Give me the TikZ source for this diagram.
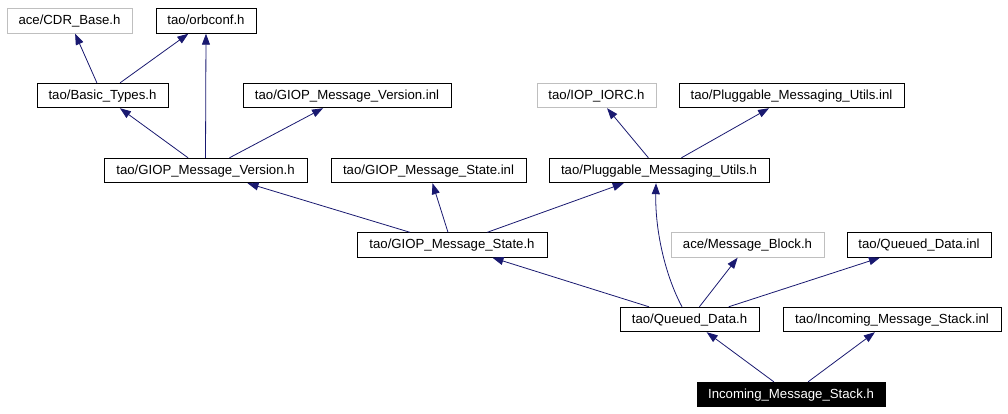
\documentclass[tikz,border=0pt]{standalone}
\usepackage{fontspec}
\setmainfont{Liberation Sans}
\usetikzlibrary{arrows.meta}
\definecolor{edgeblue}{HTML}{191970}
\definecolor{greyline}{HTML}{BFBFBF}
\tikzset{
  filebox/.style={draw=black, line width=0.9pt, fill=white, inner sep=0pt,
    minimum height=24.5pt, font=\fontsize{13.2}{15}\selectfont, text height=9.5pt, text depth=2.5pt},
  greybox/.style={filebox, draw=greyline},
  mainbox/.style={filebox, fill=black, text=white},
  dep/.style={draw=edgeblue, line width=0.8pt, -{Triangle[length=11pt,width=8pt,fill=edgeblue]}}
}
\begin{document}
\begin{tikzpicture}[x=1pt,y=-1pt]
\useasboundingbox (0,0) rectangle (1008,413);
\node[greybox, minimum width=125pt] (cdr) at (69.5,21) {ace/CDR\_Base.h};
\node[filebox, minimum width=100pt] (orb) at (206,21) {tao/orbconf.h};
\node[filebox, minimum width=131pt] (basic) at (102.5,95.5) {tao/Basic\_Types.h};
\node[filebox, minimum width=208pt] (gvinl) at (347,95.5) {tao/GIOP\_Message\_Version.inl};
\node[filebox, minimum width=203pt] (gvh) at (205.5,170.5) {tao/GIOP\_Message\_Version.h};
\node[filebox, minimum width=195pt] (gsinl) at (428.5,170.5) {tao/GIOP\_Message\_State.inl};
\node[greybox, minimum width=119pt] (iorc) at (596.5,95.5) {tao/IOP\_IORC.h};
\node[filebox, minimum width=225pt] (pmuinl) at (791.5,95.5) {tao/Pluggable\_Messaging\_Utils.inl};
\node[filebox, minimum width=220pt] (pmuh) at (659,170.5) {tao/Pluggable\_Messaging\_Utils.h};
\node[filebox, minimum width=190pt] (gsh) at (452,245) {tao/GIOP\_Message\_State.h};
\node[greybox, minimum width=153pt] (mb) at (747.5,245) {ace/Message\_Block.h};
\node[filebox, minimum width=144pt] (qdinl) at (919,245) {tao/Queued\_Data.inl};
\node[filebox, minimum width=139pt] (qdh) at (689.5,319.5) {tao/Queued\_Data.h};
\node[filebox, minimum width=218pt] (imsinl) at (892,319.5) {tao/Incoming\_Message\_Stack.inl};
\node[mainbox, minimum width=188pt] (imsh) at (791,394.5) {Incoming\_Message\_Stack.h};

\draw[dep] (basic) -- (cdr);
\draw[dep] (basic) -- (orb);
\draw[dep] (gvh.north) -- (orb.south);
\draw[dep] (gvh) -- (basic);
\draw[dep] (gvh) -- (gvinl);
\draw[dep] (gsh) -- (gvh);
\draw[dep] (gsh) -- (gsinl);
\draw[dep] (gsh) -- (pmuh);
\draw[dep] (pmuh) -- (iorc);
\draw[dep] (pmuh) -- (pmuinl);
\draw[dep] (qdh) -- (gsh);
\draw[dep] ([xshift=-7.5pt]qdh.north) .. controls (665,275) and (655,230) .. ([xshift=-3pt]pmuh.south);
\draw[dep] (qdh) -- (mb);
\draw[dep] (qdh) -- (qdinl);
\draw[dep] (imsh) -- (qdh);
\draw[dep] (imsh) -- (imsinl);
\end{tikzpicture}
\end{document}
